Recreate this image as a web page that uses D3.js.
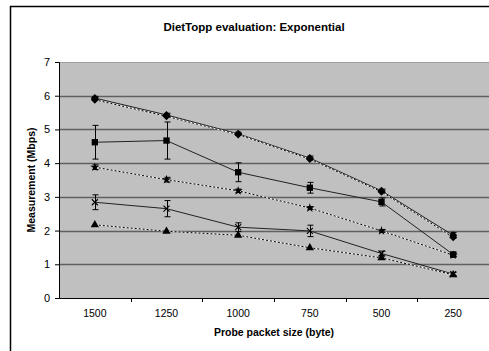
<!DOCTYPE html>
<html><head><meta charset="utf-8">
<script src="https://cdn.jsdelivr.net/npm/d3@7"></script>
<style>body{margin:0;background:#fff}svg{display:block}text{font-family:"Liberation Sans",Arial,sans-serif}</style>
</head><body><svg id="c" width="489" height="351"></svg>
<script>
const categories = ["1500","1250","1000","750","500","250"];
const yTicks = [0,1,2,3,4,5,6,7];
const s1 = [5.93,5.43,4.87,4.15,3.18,1.86];
const s1err = [0.05,0.05,0.05,0.06,0.05,0.08];
const s2 = [5.88,5.39,4.85,4.12,3.15,1.80];
const s3 = [4.62,4.67,3.73,3.27,2.85,1.29];
const s3err = [0.5,0.55,0.28,0.16,0.12,0.07];
const s4 = [3.88,3.51,3.18,2.67,1.99,1.27];
const s4err = [0.07,0.07,0.05,0.04,0.04,0.04];
const s5 = [2.84,2.65,2.1,1.99,1.32,0.71];
const s5err = [0.22,0.24,0.13,0.17,0.07,0.05];
const s6 = [2.17,1.98,1.86,1.49,1.19,0.69];

const series = [
  {v:s1, err:s1err, dash:false, m:"diamond"},
  {v:s2, err:null, dash:true, m:"diamond"},
  {v:s3, err:s3err, dash:false, m:"square"},
  {v:s4, err:s4err, dash:true, m:"star"},
  {v:s5, err:s5err, dash:false, m:"cross"},
  {v:s6, err:null, dash:true, m:"triangle"}
];

const svg = d3.select("#c");
const L=59, R=489, T=62, B=298;
const x = d3.scaleBand().domain(categories).range([L,R]);
const y = d3.scaleLinear().domain([0,7]).range([B,T]);

svg.append("path").attr("d","M10.5,351 V6.5 H489").attr("fill","none").attr("stroke","#000").attr("stroke-width",1.5);

svg.append("text").attr("x",254).attr("y",31).attr("text-anchor","middle").attr("font-size",11.5).attr("font-weight","bold").text("DietTopp evaluation: Exponential");

svg.append("rect").attr("x",L).attr("y",T).attr("width",R-L).attr("height",B-T).attr("fill","#c0c0c0");

svg.append("g").selectAll("line").data(yTicks.filter(d=>d>0&&d<7)).join("line")
  .attr("x1",L).attr("x2",R).attr("y1",d=>Math.round(y(d))+0.5).attr("y2",d=>Math.round(y(d))+0.5)
  .attr("stroke","#606060").attr("stroke-width",1.3);
svg.append("line").attr("x1",L).attr("x2",R).attr("y1",T+0.5).attr("y2",T+0.5).attr("stroke","#a0a0a0");

const ya = svg.append("g").attr("transform",`translate(${L},0)`).call(d3.axisLeft(y).tickValues(yTicks).tickSize(4).tickPadding(5).tickFormat(d3.format("d")));
ya.select(".domain").attr("stroke","#000");
ya.selectAll("text").attr("font-size",11).attr("font-family","Liberation Sans, Arial, sans-serif").attr("fill","#000");

const xa = svg.append("g").attr("transform",`translate(0,${B})`).call(d3.axisBottom(x).tickSize(0).tickPadding(12));
xa.select(".domain").attr("stroke","#000");
xa.selectAll("text").attr("font-size",10.5).attr("font-family","Liberation Sans, Arial, sans-serif").attr("fill","#000");
svg.append("g").selectAll("line").data(categories.slice(1)).join("line")
  .attr("x1",d=>Math.round(x(d))+0.5).attr("x2",d=>Math.round(x(d))+0.5).attr("y1",B).attr("y2",B+4).attr("stroke","#000");

svg.append("text").attr("transform",`translate(35,${(T+B)/2}) rotate(-90)`).attr("text-anchor","middle").attr("font-size",10.5).attr("font-weight","bold").text("Measurement (Mbps)");
svg.append("text").attr("x",(L+R)/2).attr("y",336).attr("text-anchor","middle").attr("font-size",10.5).attr("font-weight","bold").text("Probe packet size (byte)");

const cx = d => x(d)+x.bandwidth()/2;
const line = d3.line().x((d,i)=>cx(categories[i])).y(d=>y(d));

series.forEach(s=>{
  if(s.dash){
    svg.append("path").attr("d",line(s.v)).attr("fill","none").attr("stroke","#f4f4f4").attr("stroke-width",1);
    svg.append("path").attr("d",line(s.v)).attr("fill","none").attr("stroke","#000").attr("stroke-width",1).attr("stroke-dasharray","2,2");
  } else {
    svg.append("path").attr("d",line(s.v)).attr("fill","none").attr("stroke","#222").attr("stroke-width",1);
  }
});

series.forEach(s=>{
  if(!s.err) return;
  const g = svg.append("g").attr("stroke","#000").attr("stroke-width",1);
  s.v.forEach((v,i)=>{
    const px = Math.round(cx(categories[i]))+0.5;
    const y1 = y(v+s.err[i]), y2 = y(v-s.err[i]);
    g.append("line").attr("x1",px).attr("x2",px).attr("y1",y1).attr("y2",y2);
    g.append("line").attr("x1",px-3).attr("x2",px+3).attr("y1",y1).attr("y2",y1);
    g.append("line").attr("x1",px-3).attr("x2",px+3).attr("y1",y2).attr("y2",y2);
  });
});

const sym = {square:[d3.symbolSquare,40], star:[d3.symbolStar,26], triangle:[d3.symbolTriangle,30]};
series.forEach(s=>{
  s.v.forEach((v,i)=>{
    const px = cx(categories[i]), py = y(v);
    if(s.m==="cross"){
      svg.append("path").attr("d",`M${px-3},${py-3}L${px+3},${py+3}M${px-3},${py+3}L${px+3},${py-3}`).attr("stroke","#000").attr("stroke-width",1.1);
    } else if(s.m==="diamond"){
      svg.append("path").attr("d",`M${px},${py-4}L${px+4},${py}L${px},${py+4}L${px-4},${py}Z`).attr("fill","#000");
    } else {
      const [t,sz] = sym[s.m];
      svg.append("path").attr("transform",`translate(${px},${py})`).attr("d",d3.symbol().type(t).size(sz)()).attr("fill","#000");
    }
  });
});
</script></body></html>
